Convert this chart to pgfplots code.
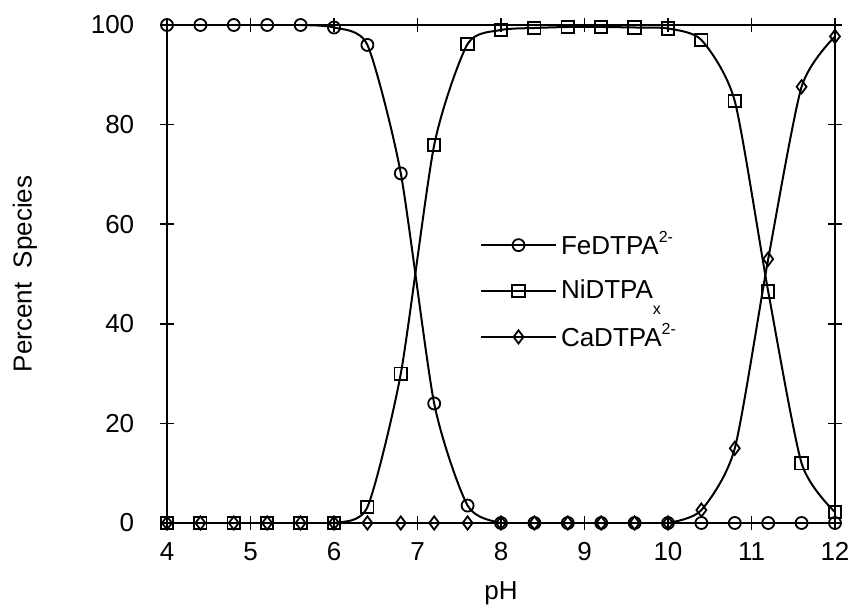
\documentclass[border=0pt]{standalone}
\usepackage{fontspec}
\setmainfont{Liberation Sans}
\usepackage{pgfplots}
\pgfplotsset{compat=1.18}
\begin{document}
\fontsize{13}{15}\selectfont
\begin{tikzpicture}
\begin{axis}[
  scale only axis,
  width=334pt, height=249pt,
  xmin=4, xmax=12, ymin=0, ymax=100,
  xtick={4,5,...,12}, ytick={0,20,...,100},
  minor tick num=0,
  tick align=center,
  major tick length=6.75pt,
  xtick pos=both, ytick pos=both,
  xticklabel pos=lower, yticklabel pos=left,
  axis line style={line width=1.1pt},
  every tick/.style={black, line width=0.9pt},
  /pgf/number format/assume math mode=true,
  yticklabel style={xshift=-8.5pt},
  xticklabel style={yshift=-2pt},
  xlabel={pH},
  ylabel={Percent\ \ Species},
  xlabel style={at={(axis description cs:0.5,-0.1546)}, anchor=base},
  ylabel style={at={(axis description cs:-0.2126,0.5)}, anchor=center},
  legend cell align=left,
  legend style={draw=none, fill=none, at={(axis description cs:0.468,0.594)}, anchor=north west, row sep=6.5pt, inner sep=0pt},
  legend image code/.code={\draw[mark repeat=2,mark phase=2] plot coordinates {(0pt,0pt) (18.75pt,0pt) (37.5pt,0pt)};},
  every axis plot/.append style={black, line width=1pt, mark options={solid, line width=0.9pt}},
]
\addplot[smooth, tension=0.4, mark=o, mark size=3pt] coordinates {
(4,100) (4.4,100) (4.8,100) (5.2,100) (5.6,100) (6,99.5) (6.4,96) (6.8,70.2)
(7.2,24) (7.6,3.5) (8,0) (8.4,0) (8.8,0) (9.2,0) (9.6,0) (10,0) (10.4,0)
(10.8,0) (11.2,0) (11.6,0) (12,0)};
\addlegendentry{FeDTPA\raisebox{6pt}{\footnotesize 2-}}
\addplot[smooth, tension=0.4, mark=square, mark size=3.1pt] coordinates {
(4,0) (4.4,0) (4.8,0) (5.2,0) (5.6,0) (6,0) (6.4,3.2) (6.8,30) (7.2,75.9)
(7.6,96.2) (8,99) (8.4,99.4) (8.8,99.6) (9.2,99.6) (9.6,99.5) (10,99.3)
(10.4,97) (10.8,84.7) (11.2,46.5) (11.6,12) (12,2.2)};
\addlegendentry{NiDTPA\raisebox{-8pt}{\footnotesize x}}
\addplot[smooth, tension=0.4, mark=diamond, mark size=3.3pt] coordinates {
(4,0) (4.4,0) (4.8,0) (5.2,0) (5.6,0) (6,0) (6.4,0) (6.8,0) (7.2,0)
(7.6,0) (8,0) (8.4,0) (8.8,0) (9.2,0) (9.6,0) (10,0) (10.4,2.6) (10.8,15)
(11.2,53) (11.6,87.6) (12,97.7)};
\addlegendentry{CaDTPA\raisebox{6pt}{\footnotesize 2-}}
\end{axis}
\pgfresetboundingbox
\path[use as bounding box] ([xshift=-83.5pt,yshift=-44pt]current axis.south west) rectangle ([xshift=8.5pt,yshift=12.5pt]current axis.north east);
\end{tikzpicture}
\end{document}
